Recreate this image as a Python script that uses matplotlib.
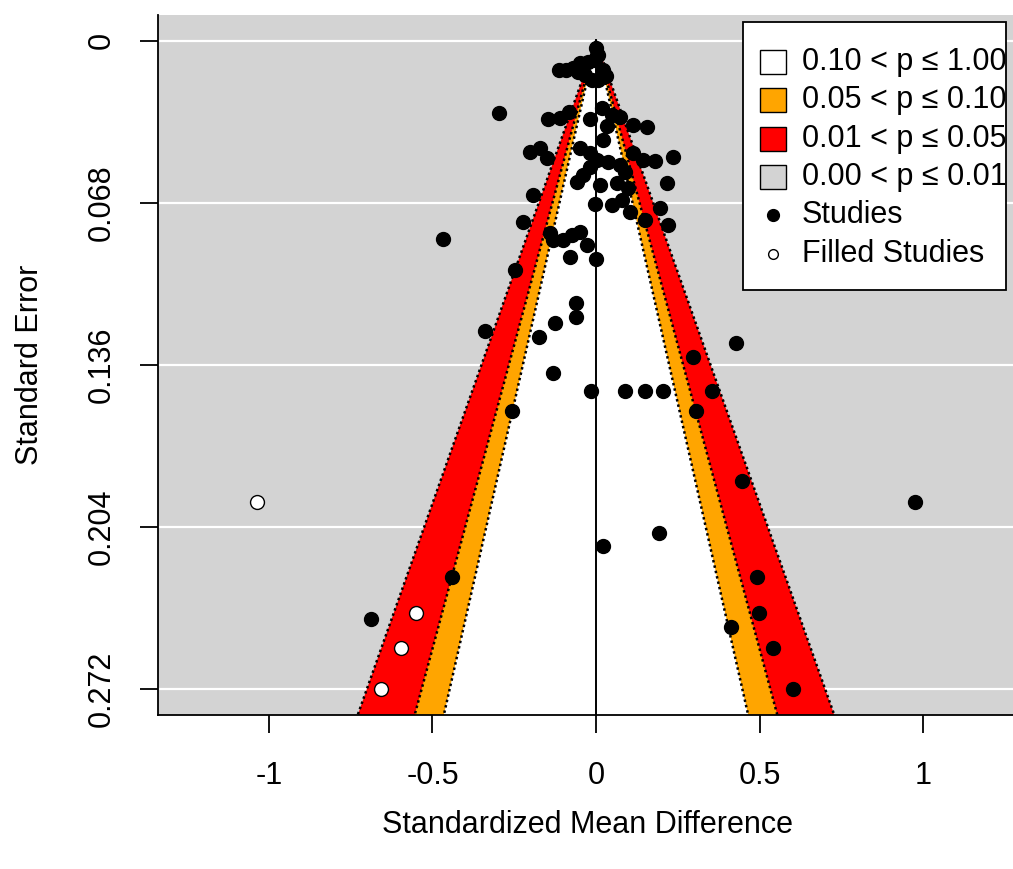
import numpy as np
import matplotlib
matplotlib.use('Agg')
import matplotlib.pyplot as plt
from matplotlib.patches import Rectangle

plt.rcParams['font.family'] = ['Liberation Sans', 'DejaVu Sans']
plt.rcParams['font.size'] = 22

# observed studies (standardized mean difference, standard error)
smd = [-0.113, -0.092, -0.070, -0.049, -0.024, -0.003, 0.006, 0.021, 0.031, -0.012,
       0.006, -0.034, -0.055, 0.000,
       -0.297, -0.147, -0.110, -0.083, -0.018, 0.018, 0.049, 0.073, 0.034, 0.113,
       0.156, 0.021, -0.202, -0.171, -0.150, -0.049, -0.018, 0.003, 0.037, 0.073,
       0.089, 0.113, 0.144, 0.180, 0.235, -0.018, -0.040, -0.058, 0.012, 0.064,
       0.098, 0.217, -0.193, -0.003, 0.049, 0.080, 0.104, 0.150, 0.196, 0.220,
       -0.223, -0.141, -0.131, -0.101, -0.073, -0.049, -0.028, -0.080, 0.000,
       -0.248, -0.468, -0.339, -0.174, -0.125, -0.061, -0.061, -0.131, -0.015,
       0.089, 0.150, 0.205, -0.257, 0.428, 0.297, 0.355, 0.306, 0.446, 0.193,
       0.021, -0.440, -0.688, 0.492, 0.498, 0.413, 0.541, 0.602, 0.976]
se = [0.0122, 0.0122, 0.0113, 0.0092, 0.0088, 0.0080, 0.0059, 0.0122, 0.0147, 0.0164,
      0.0164, 0.0143, 0.0130, 0.0029,
      0.0302, 0.0327, 0.0323, 0.0298, 0.0327, 0.0281, 0.0311, 0.0319, 0.0357, 0.0353,
      0.0361, 0.0416, 0.0466, 0.0449, 0.0491, 0.0449, 0.0470, 0.0500, 0.0508, 0.0521,
      0.0550, 0.0470, 0.0500, 0.0504, 0.0487, 0.0529, 0.0563, 0.0592, 0.0605, 0.0596,
      0.0617, 0.0596, 0.0647, 0.0684, 0.0688, 0.0667, 0.0718, 0.0751, 0.0701, 0.0772,
      0.0760, 0.0806, 0.0835, 0.0835, 0.0814, 0.0802, 0.0856, 0.0907, 0.0915,
      0.0961, 0.0831, 0.1217, 0.1243, 0.1184, 0.1100, 0.1159, 0.1394, 0.1469,
      0.1469, 0.1469, 0.1469, 0.1553, 0.1268, 0.1327, 0.1469, 0.1553, 0.1847, 0.2065,
      0.2120, 0.2250, 0.2427, 0.2250, 0.2401, 0.2460, 0.2548, 0.2720, 0.1935]

# trim-and-fill imputed studies
fill_smd = [-1.037, -0.550, -0.596, -0.657]
fill_se = [0.1935, 0.2401, 0.2548, 0.2720]

# contour levels (two-sided z for 90/95/99 %)
z_levels = [2.5758, 1.9600, 1.6449]
shades = ['red', 'orange', 'white']

xticks = [-1, -0.5, 0, 0.5, 1]
xticklabels = ['-1', '-0.5', '0', '0.5', '1']
yticks = [0, 0.068, 0.136, 0.204, 0.272]
yticklabels = ['0', '0.068', '0.136', '0.204', '0.272']

legend_labels = ['0.10 < p \u2264 1.00', '0.05 < p \u2264 0.10',
                 '0.01 < p \u2264 0.05', '0.00 < p \u2264 0.01',
                 'Studies', 'Filled Studies']
legend_fills = ['white', 'orange', 'red', 'lightgray']

W, H = 1013, 869
fig = plt.figure(figsize=(W / 100, H / 100), dpi=100)
ax = fig.add_axes([158 / W, 154 / H, 876 / W, 700 / H])
ax.set_facecolor('lightgray')

# R-style 4% padding around the data range
xr = 1.24
ax.set_xlim(-xr * 1.08, xr * 1.08)
ax.set_ylim(0.272 * 1.04, -0.272 * 0.04)

for t in yticks:
    ax.axhline(t, color='white', lw=1.6, zorder=1)

semax = 0.30
for z, c in zip(z_levels, shades):
    ax.fill([-z * semax, 0, z * semax], [semax, 0, semax], color=c, lw=0, zorder=2)
for z in z_levels:
    ax.plot([-z * semax, 0, z * semax], [semax, 0, semax], color='black',
            ls=(0, (1, 1.2)), lw=1.8, zorder=3)
ax.plot([0, 0], [-0.0005, semax], color='black', lw=1.4, zorder=3)

ax.plot(smd, se, ls='', marker='o', color='black', ms=10, zorder=4)
ax.plot(fill_smd, fill_se, ls='', marker='o', mfc='white', mec='black',
        mew=1.0, ms=10, zorder=4)

for s in ['top', 'right']:
    ax.spines[s].set_visible(False)
for s in ['left', 'bottom']:
    ax.spines[s].set_linewidth(1.3)

ax.set_xticks(xticks)
ax.set_xticklabels(xticklabels)
ax.set_yticks(yticks)
ax.set_yticklabels(yticklabels, rotation=90, va='center')
ax.tick_params(length=13, width=1.3, labelsize=22)
ax.tick_params(axis='x', pad=20)
ax.tick_params(axis='y', pad=17)

ax.set_xlabel('Standardized Mean Difference', va='center')
ax.xaxis.set_label_coords(0.49, (715 - 825) / 700)
ax.set_ylabel('Standard Error', va='center')
ax.yaxis.set_label_coords((30 - 158) / 876, 0.5)

# legend drawn R-style: box, fill keys, point keys and text (pixel layout, top-left origin)
def fx(px):
    return px / W

def fy(py):
    return 1 - py / H

fig.patches.append(Rectangle((fx(743), fy(290)), fx(1006) - fx(743), fy(22) - fy(290),
                             transform=fig.transFigure, fc='white', ec='black', lw=1.3,
                             zorder=10))
row0, step = 62, 38.3
for i, lab in enumerate(legend_labels):
    yc = row0 + step * i
    if i < len(legend_fills):
        fig.patches.append(Rectangle((fx(760), fy(yc + 12)), fx(786) - fx(760), fy(yc - 12) - fy(yc + 12),
                                     transform=fig.transFigure, fc=legend_fills[i],
                                     ec='black', lw=1.0, zorder=11))
    elif lab == 'Studies':
        fig.lines.append(plt.Line2D([fx(773)], [fy(yc)], transform=fig.transFigure, ls='',
                                    marker='o', color='black', ms=8.5, zorder=11))
    else:
        fig.lines.append(plt.Line2D([fx(773)], [fy(yc)], transform=fig.transFigure, ls='',
                                    marker='o', mfc='white', mec='black', mew=1.0,
                                    ms=7, zorder=11))
    fig.text(fx(802), fy(yc), lab, va='center', ha='left', fontsize=22, zorder=12,
             clip_on=False)

fig.savefig('out.png', dpi=100)
